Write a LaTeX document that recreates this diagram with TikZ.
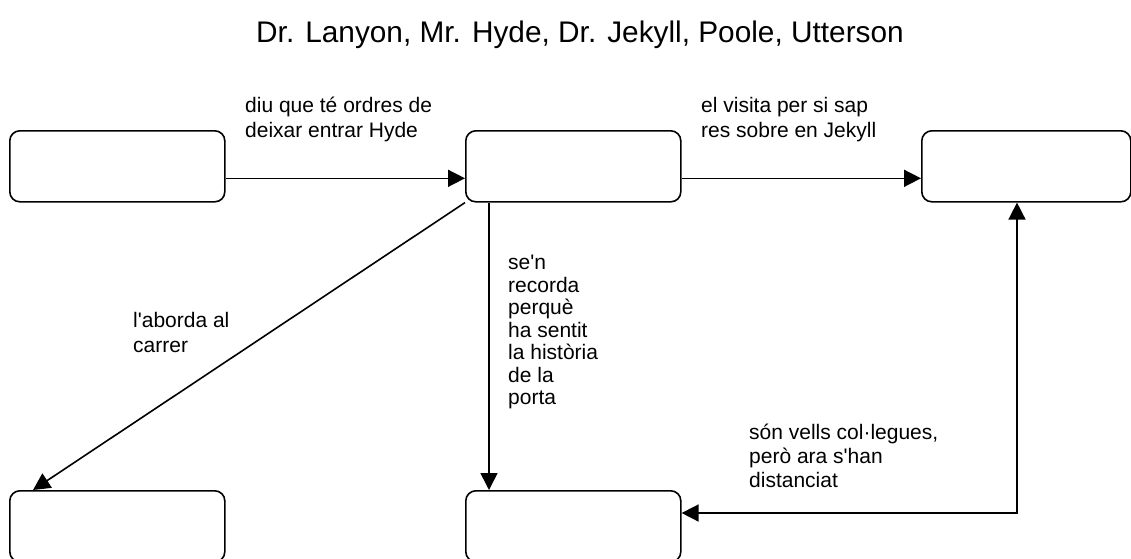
\documentclass[tikz,border=0pt]{standalone}
\usepackage{fontspec}
\setmainfont{Liberation Sans}[Ligatures=TeXOff]
\usetikzlibrary{arrows.meta}
\begin{document}
\begin{tikzpicture}[x=1pt,y=-1pt,
  box/.style={draw, line width=1.6pt, rounded corners=10pt, minimum width=215pt, minimum height=71pt, inner sep=0pt, anchor=north west},
  conn/.style={line width=1.6pt, -{Triangle[length=17pt,width=17pt]}},
  conn2/.style={line width=1.6pt, {Triangle[length=17pt,width=17pt]}-{Triangle[length=17pt,width=17pt]}},
  lbl/.style={anchor=north west, inner sep=0pt, align=left, font=\fontsize{21}{25}\selectfont}]
\useasboundingbox (0,0) rectangle (1131,558);
\clip (0,0) rectangle (1131,558);
\node[anchor=base, inner sep=0pt, font=\fontsize{29.8}{34}\selectfont] (title) at (580,42) {Dr. Lanyon, Mr. Hyde, Dr. Jekyll, Poole, Utterson};
\node[box] (lan) at (9,130) {};
\node[box] (hall) at (465,130) {};
\node[box, minimum width=209pt] (r) at (921,130) {};
\node[box] (bl) at (9,490) {};
\node[box] (bm) at (465,490) {};
\coordinate (k) at (1017,513);
\draw[conn] ([yshift=-12pt]lan.east) -- ([yshift=-12pt]hall.west);
\draw[conn] ([yshift=-12pt]hall.east) -- ([yshift=-12pt]r.west);
\draw[conn] (hall.south west) -- ([xshift=24pt]bl.north west);
\draw[conn] ([xshift=24pt]hall.south west) -- ([xshift=24pt]bm.north west);
\draw[conn2] (bm.east |- k) -- (k) -- (k |- r.south);
\node[lbl] (l1) at (245,97) {diu que té ordres de\\deixar entrar Hyde};
\node[lbl] (l2) at (701,97) {el visita per si sap\\res sobre en Jekyll};
\node[lbl, font=\fontsize{21}{22.5}\selectfont] (l3) at (508,255) {se'n\\recorda\\perquè\\ha sentit\\la història\\de la\\porta};
\node[lbl] (l4) at (133,312) {l'aborda al\\carrer};
\node[lbl, font=\fontsize{21}{24}\selectfont] (l5) at (749,424) {són vells col·legues,\\però ara s'han\\distanciat};
\end{tikzpicture}
\end{document}
